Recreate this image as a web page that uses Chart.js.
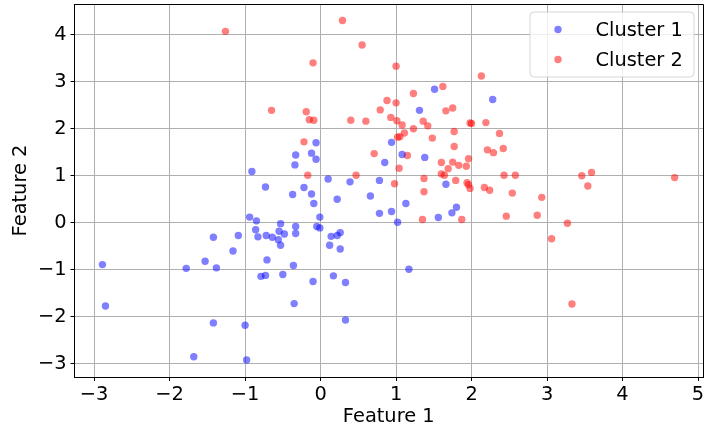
<!DOCTYPE html>
<html>
<head>
<meta charset="utf-8">
<script src="https://cdn.jsdelivr.net/npm/chart.js@4/dist/chart.umd.min.js"></script>
<style>
html,body{margin:0;padding:0;background:#fff;}
canvas{display:block;}
</style>
</head>
<body>
<canvas id="c" width="707" height="438"></canvas>
<script>
const seriesLabels = ["Cluster 1", "Cluster 2"];
const xTicks = [-3, -2, -1, 0, 1, 2, 3, 4, 5];
const yTicks = [-3, -2, -1, 0, 1, 2, 3, 4];
const xTitle = "Feature 1";
const yTitle = "Feature 2";

const cluster1X = [-0.06,-0.33,-0.12,-0.06,-0.34,-0.91,-0.73,-0.22,-0.37,-0.12,-0.09,-0.94,-0.85,-0.01,-0.53,-0.33,-0.05,-0.01,-0.86,-0.55,-0.48,-0.33,-0.72,-0.83,-0.64,-0.56,-0.53,-1.42,-1.09,-1.16,-0.71,-1.53,-1.78,-1.38,-0.79,-0.73,-0.50,-0.36,-0.10,-0.35,-2.89,-2.85,-1.42,-1.00,-1.68,-0.98,1.51,2.28,1.31,0.94,1.08,1.38,0.85,0.10,0.39,0.78,1.66,0.22,0.66,1.13,0.78,0.94,1.74,1.80,1.56,1.02,0.14,0.22,0.26,0.12,0.26,1.17,0.17,0.33,0.33];
const cluster1Y = [1.70,1.44,1.48,1.35,1.23,1.09,0.76,0.75,0.60,0.61,0.41,0.12,0.04,0.12,-0.02,-0.08,-0.08,-0.11,-0.15,-0.18,-0.24,-0.23,-0.27,-0.30,-0.31,-0.36,-0.48,-0.31,-0.27,-0.60,-0.79,-0.82,-0.97,-0.96,-1.14,-1.12,-1.10,-0.91,-1.25,-1.72,-0.89,-1.77,-2.13,-2.18,-2.85,-2.92,2.84,2.62,2.39,1.71,1.45,1.39,1.28,0.93,0.87,0.90,0.82,0.50,0.57,0.41,0.20,0.24,0.21,0.33,0.11,0.01,-0.29,-0.27,-0.21,-0.48,-0.56,-0.99,-1.13,-1.27,-2.07];

const cluster2X = [-1.26,-0.10,-0.65,-0.19,-0.15,-0.09,-0.22,-0.17,0.29,0.55,1.00,2.13,1.62,1.23,0.88,1.00,0.79,1.75,1.66,0.40,0.60,0.93,1.01,1.08,1.36,1.42,1.98,2.00,2.19,1.23,1.11,1.02,1.05,1.48,1.77,2.37,1.77,2.42,2.21,2.29,0.71,1.15,1.96,1.60,1.75,1.83,1.93,1.69,1.04,1.60,1.64,0.47,1.37,1.79,1.94,1.96,2.17,2.24,1.98,2.43,2.58,2.54,0.98,1.37,1.35,1.87,2.46,2.93,3.46,3.59,3.54,4.69,2.87,3.27,3.06,3.33];
const cluster2Y = [4.07,3.40,2.39,2.36,2.19,2.18,1.72,1.01,4.30,3.78,3.33,3.12,2.90,2.75,2.60,2.55,2.40,2.44,2.38,2.18,2.16,2.24,2.17,2.08,2.16,2.06,2.12,2.11,2.13,2.00,1.91,1.82,1.83,1.80,1.94,1.90,1.62,1.58,1.55,1.49,1.47,1.43,1.36,1.28,1.29,1.22,1.20,1.15,1.16,1.04,1.01,1.01,0.94,0.90,0.85,0.81,0.75,0.69,0.73,1.01,1.01,0.63,0.83,0.66,0.07,0.07,0.14,0.54,1.00,1.07,0.78,0.96,0.16,-0.01,-0.34,-1.73];

const colors = ["rgba(0,0,255,0.5)", "rgba(255,0,0,0.5)"];
const FONT = "'DejaVu Sans', sans-serif";
const FS = 19.4;

function pts(xs, ys){ return xs.map((x,i)=>({x:x, y:ys[i]})); }
function fmt(v){ return v < 0 ? '\u2212' + Math.abs(v) : String(v); }

const framePlugin = {
  id: 'frame',
  afterDraw(chart){
    const {ctx, chartArea:a} = chart;
    ctx.save();
    ctx.strokeStyle = '#000';
    ctx.lineWidth = 1;
    ctx.beginPath();
    ctx.moveTo(a.left, a.top + 0.5);
    ctx.lineTo(a.right + 0.5, a.top + 0.5);
    ctx.lineTo(a.right + 0.5, a.bottom);
    ctx.stroke();
    // legend
    const bx = 530, by = 12, bw = 164, bh = 65, r = 4;
    ctx.beginPath();
    ctx.moveTo(bx + r, by);
    ctx.arcTo(bx + bw, by, bx + bw, by + bh, r);
    ctx.arcTo(bx + bw, by + bh, bx, by + bh, r);
    ctx.arcTo(bx, by + bh, bx, by, r);
    ctx.arcTo(bx, by, bx + bw, by, r);
    ctx.closePath();
    ctx.fillStyle = 'rgba(255,255,255,0.8)';
    ctx.fill();
    ctx.strokeStyle = 'rgba(204,204,204,0.8)';
    ctx.stroke();
    chart.data.datasets.forEach((ds, i) => {
      const cy = 29.5 + i * 30;
      ctx.beginPath();
      ctx.arc(558, cy, 3.7, 0, Math.PI * 2);
      ctx.fillStyle = ds.backgroundColor;
      ctx.fill();
      ctx.fillStyle = '#000';
      ctx.font = FS + 'px ' + FONT;
      ctx.textBaseline = 'alphabetic';
      ctx.textAlign = 'left';
      ctx.fillText(ds.label, 595.5, 36 + i * 29.5);
    });
    ctx.restore();
  }
};

new Chart(document.getElementById('c'), {
  type: 'scatter',
  data: {
    datasets: [
      {label: seriesLabels[0], data: pts(cluster1X, cluster1Y), backgroundColor: colors[0], borderWidth: 0, pointRadius: 3.7},
      {label: seriesLabels[1], data: pts(cluster2X, cluster2Y), backgroundColor: colors[1], borderWidth: 0, pointRadius: 3.7}
    ]
  },
  options: {
    responsive: false,
    animation: false,
    devicePixelRatio: 1,
    layout: {padding: {top: 1.5, right: 3, left: 0, bottom: 0}},
    plugins: {legend: {display: false}, tooltip: {enabled: false}},
    scales: {
      x: {
        type: 'linear',
        min: -3.26, max: 5.066,
        afterBuildTicks: s => { s.ticks = xTicks.map(v => ({value: v})); },
        afterFit: s => { s.height = 61; s.paddingLeft = 0; s.paddingRight = 0; },
        grid: {color: '#b0b0b0', lineWidth: 1, tickColor: '#000', tickLength: 4, tickWidth: 1},
        border: {display: true, color: '#000', width: 1},
        ticks: {color: '#000', font: {family: FONT, size: FS}, padding: 2, maxRotation: 0, autoSkip: false, callback: v => fmt(v)},
        title: {display: true, text: xTitle, color: '#000', font: {family: FONT, size: FS}, padding: {top: 0, bottom: 9.4}}
      },
      y: {
        type: 'linear',
        min: -3.281, max: 4.652,
        afterBuildTicks: s => { s.ticks = yTicks.map(v => ({value: v})); },
        afterFit: s => { s.width = 74.5; s.paddingTop = 0; s.paddingBottom = 0; },
        grid: {color: '#b0b0b0', lineWidth: 1, tickColor: '#000', tickLength: 4, tickWidth: 1},
        border: {display: true, color: '#000', width: 1},
        ticks: {color: '#000', font: {family: FONT, size: FS}, padding: 4, autoSkip: false, callback: v => fmt(v)},
        title: {display: true, text: yTitle, color: '#000', font: {family: FONT, size: FS}, padding: {top: 9.4, bottom: 0}}
      }
    }
  },
  plugins: [framePlugin]
});
</script>
</body>
</html>
